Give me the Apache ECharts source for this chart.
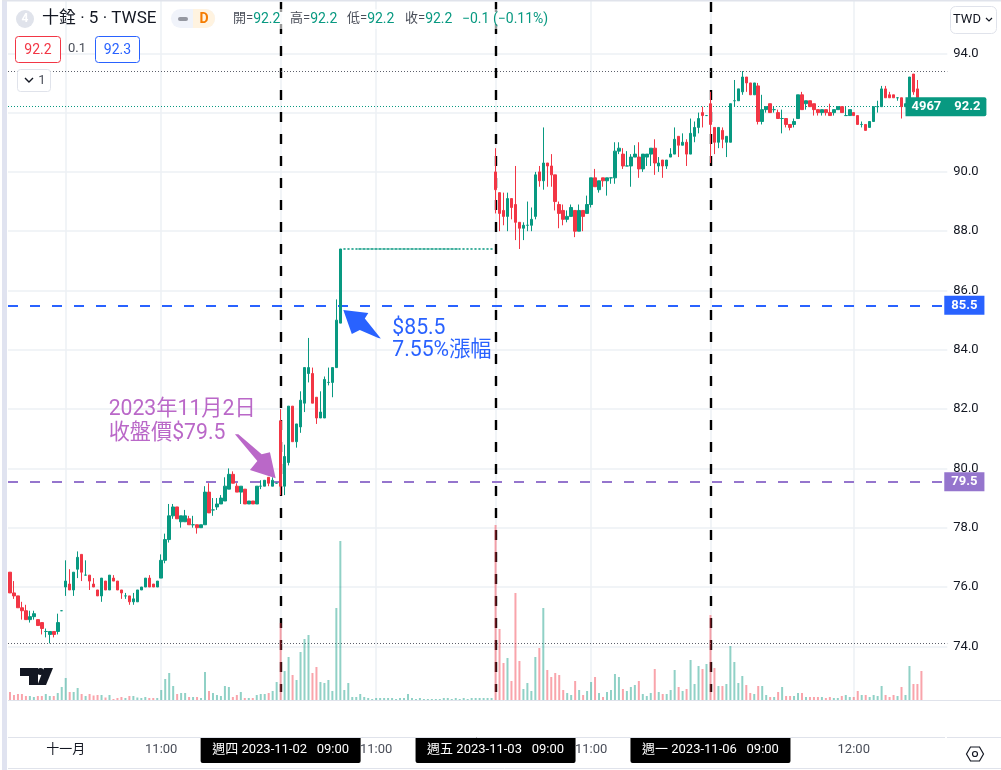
<!DOCTYPE html>
<html><head><meta charset="utf-8">
<style>html,body{margin:0;padding:0;background:#fff}#c{width:1001px;height:770px}</style>
<script src="https://cdn.jsdelivr.net/npm/echarts@6/dist/echarts.min.js"></script>
</head><body><div id="c"></div>
<script>
// [open, close, low, high] per 5-minute bar, by session
const barsOct31 = [[76.5,75.8,75.8,76.5],[75.8,75.7,75.6,76.2],[75.7,75.3,75.3,75.7],[75.3,75.2,74.9,75.5],[75.2,74.9,74.9,75.4],[74.9,75.0,74.8,75.2],[75.0,75.1,74.9,75.2],[74.9,74.7,74.7,74.9],[74.8,74.6,74.4,74.8],[74.5,74.5,74.3,74.6],[74.4,74.5,74.1,74.5],[74.5,74.4,74.3,74.5],[74.5,74.8,74.4,75.1],[75.2,75.2,75.2,75.2]];
const barsNov01 = [[76.0,76.2,75.7,76.9],[76.1,75.9,75.9,76.6],[75.9,76.5,75.7,76.5],[76.6,77.0,76.3,77.2],[77.1,76.5,76.2,77.1],[76.4,76.4,76.4,76.9],[76.4,76.2,75.9,76.4],[76.1,76.0,76.0,76.3],[75.9,75.7,75.7,75.9],[75.7,76.3,75.5,76.3],[76.2,75.9,75.9,76.2],[75.9,76.4,75.9,76.4],[76.3,76.2,76.2,76.4],[76.2,75.9,75.9,76.2],[75.9,75.8,75.6,75.9],[75.7,75.7,75.6,75.8],[75.7,75.5,75.4,75.7],[75.5,75.6,75.4,75.8],[75.5,75.9,75.5,75.9],[75.9,76.0,75.9,76.0],[76.0,76.3,76.0,76.3],[76.3,76.0,76.0,76.4],[76.1,76.0,76.0,76.1],[76.0,76.2,76.0,76.2],[76.3,76.9,76.3,77.1],[76.9,77.6,76.8,77.8],[77.6,78.4,77.5,78.8],[78.4,78.7,78.3,78.8],[78.7,78.3,78.3,78.7],[78.2,78.4,78.0,78.4],[78.2,78.4,78.2,78.6],[78.3,78.1,78.1,78.4],[78.1,78.1,78.0,78.4],[78.1,78.0,77.8,78.1],[78.0,78.1,78.0,78.1],[78.1,79.2,78.1,79.4],[79.2,78.5,78.5,79.5],[78.6,78.6,78.4,79.0],[78.7,78.8,78.6,79.0],[78.8,79.0,78.8,79.1],[78.9,79.4,78.9,79.7],[79.3,79.8,79.3,80.0],[79.8,79.5,79.5,79.9],[79.4,79.2,79.2,79.5],[79.2,79.4,78.8,79.4],[79.3,78.8,78.8,79.3],[78.8,78.9,78.8,78.9],[78.9,78.8,78.8,78.9],[78.8,79.4,78.8,79.4],[79.4,79.4,79.3,79.6],[79.4,79.6,79.4,79.6],[79.7,79.5,79.4,79.7],[79.4,79.6,79.4,79.7],[79.5,79.5,79.5,79.5]];
const barsNov02 = [[81.6,79.4,79.1,82.0],[79.4,80.4,79.1,80.8],[80.2,82.1,80.1,82.1],[82.1,80.9,80.9,82.1],[80.9,81.5,80.7,81.5],[81.4,82.3,81.2,82.6],[82.2,83.4,81.9,83.4],[83.2,83.4,82.9,84.4],[83.2,82.2,82.2,83.4],[82.4,81.7,81.5,82.4],[81.7,81.9,81.7,82.6],[81.7,83.0,81.7,83.1],[82.9,82.9,82.8,83.4],[82.9,83.4,82.4,83.4],[83.4,85.0,83.4,85.7],[84.9,87.4,84.9,87.4],
[87.4,87.4,87.4,87.4],[87.4,87.4,87.4,87.4],[87.4,87.4,87.4,87.4],[87.4,87.4,87.4,87.4],[87.4,87.4,87.4,87.4],[87.4,87.4,87.4,87.4],[87.4,87.4,87.4,87.4],[87.4,87.4,87.4,87.4],[87.4,87.4,87.4,87.4],[87.4,87.4,87.4,87.4],[87.4,87.4,87.4,87.4],[87.4,87.4,87.4,87.4],[87.4,87.4,87.4,87.4],[87.4,87.4,87.4,87.4],[87.4,87.4,87.4,87.4],[87.4,87.4,87.4,87.4],[87.4,87.4,87.4,87.4],[87.4,87.4,87.4,87.4],[87.4,87.4,87.4,87.4],[87.4,87.4,87.4,87.4],[87.4,87.4,87.4,87.4],[87.4,87.4,87.4,87.4],[87.4,87.4,87.4,87.4],[87.4,87.4,87.4,87.4],[87.4,87.4,87.4,87.4],[87.4,87.4,87.4,87.4],[87.4,87.4,87.4,87.4],[87.4,87.4,87.4,87.4],[87.4,87.4,87.4,87.4],[87.4,87.4,87.4,87.4],[87.4,87.4,87.4,87.4],[87.4,87.4,87.4,87.4],[87.4,87.4,87.4,87.4],[87.4,87.4,87.4,87.4],[87.4,87.4,87.4,87.4],[87.4,87.4,87.4,87.4],[87.4,87.4,87.4,87.4],[87.4,87.4,87.4,87.4]];
const barsNov03 = [[90.0,89.4,88.6,90.8],[89.3,88.6,88.0,89.3],[88.7,88.5,88.2,89.3],[88.5,89.1,88.0,89.3],[89.1,88.8,88.4,89.1],[88.9,88.3,87.7,90.2],[88.3,88.1,87.4,88.3],[88.1,88.2,87.7,88.3],[88.2,88.2,88.0,89.0],[88.2,88.4,88.0,88.8],[88.5,89.9,88.4,90.0],[90.0,89.7,89.5,90.2],[89.7,90.3,89.4,91.5],[90.3,90.2,89.5,90.3],[90.2,89.9,89.5,90.6],[89.9,89.0,88.7,89.9],[88.9,88.6,88.1,89.0],[88.7,88.4,88.2,88.9],[88.4,88.5,88.3,88.7],[88.5,88.8,88.5,88.9],[88.7,88.0,87.8,88.7],[88.0,88.7,88.0,88.9],[88.7,88.5,88.0,88.7],[88.6,88.9,88.6,89.2],[88.9,89.8,88.8,89.8],[89.8,89.5,89.5,90.1],[89.4,89.7,89.3,89.7],[89.8,89.7,89.5,89.8],[89.7,89.8,89.2,89.8],[89.8,89.8,89.6,89.8],[89.8,90.7,89.6,91.0],[90.7,90.8,90.6,91.0],[90.6,90.2,90.1,90.8],[90.2,90.2,90.2,90.7],[90.2,90.5,89.5,90.6],[90.5,90.6,90.5,90.9],[90.5,90.1,89.8,91.0],[90.1,90.6,90.0,90.6],[90.5,90.6,90.2,90.6],[90.6,90.8,90.2,90.8],[90.8,90.3,89.9,91.1],[90.2,90.3,90.0,90.5],[90.4,90.2,89.8,90.4],[90.2,90.4,90.1,90.4],[90.5,90.6,90.5,90.8],[90.6,91.1,90.6,91.5],[91.2,90.9,90.5,91.2],[90.9,91.0,90.9,91.3],[91.0,90.6,90.2,91.1],[90.6,91.3,90.6,91.8],[91.2,91.5,91.0,91.7],[91.5,91.8,91.3,92.0],[92.0,91.9,91.5,92.2],[91.9,91.9,91.9,91.9]];
const barsNov06 = [[92.3,91.6,90.3,92.7],[91.5,91.0,90.6,91.5],[91.0,91.5,90.8,91.5],[91.4,91.1,90.8,91.5],[91.0,91.2,90.5,91.2],[91.0,92.3,91.0,92.3],[92.4,92.4,92.2,93.1],[92.4,92.8,92.4,92.8],[92.7,93.2,92.6,93.4],[93.2,93.0,92.7,93.2],[93.0,92.6,92.6,93.0],[92.6,93.0,92.6,93.0],[92.9,91.7,91.6,93.0],[91.7,92.1,91.6,92.6],[92.1,92.2,92.0,92.2],[92.3,92.0,92.0,92.3],[92.1,92.1,92.0,92.2],[92.0,91.8,91.8,92.1],[91.8,91.8,91.3,92.1],[91.8,91.6,91.5,91.8],[91.6,91.5,91.4,91.6],[91.6,91.7,91.5,91.8],[91.8,92.6,91.8,92.6],[92.6,92.1,92.1,92.7],[92.3,92.4,92.1,92.4],[92.4,92.2,92.2,92.4],[92.3,92.1,91.9,92.3],[92.1,92.0,91.9,92.1],[92.0,92.1,91.9,92.1],[92.1,92.0,91.9,92.1],[92.0,91.9,91.9,92.3],[92.0,92.1,91.9,92.1],[92.1,92.2,92.1,92.2],[92.2,92.0,92.0,92.2],[91.9,91.9,91.9,92.2],[91.9,92.1,91.9,92.1],[92.0,91.9,91.9,92.0],[91.9,91.6,91.6,91.9],[91.6,91.6,91.5,91.7],[91.6,91.4,91.4,91.6],[91.5,91.7,91.5,91.7],[91.7,92.2,91.7,92.2],[92.2,92.2,92.0,92.4],[92.2,92.8,92.2,92.9],[92.8,92.5,92.5,92.9],[92.6,92.5,92.5,92.7],[92.6,92.5,92.5,92.6],[92.5,92.5,92.4,92.5],[92.5,92.2,91.8,92.5],[92.2,92.3,92.2,92.3],[92.4,93.2,92.4,93.2],[93.3,92.7,92.6,93.3],[92.8,92.5,92.5,93.1],[92.2,92.2,92.2,92.2]];
// volume per bar (read as bar heights)
const volOct31 = [8,5,6,6,4,4,3,4,4,6,4,4,7,13];
const volNov01 = [22,8,8,12,6,4,6,4.5,5,5,2.5,5,1,2,3,2,4,4,2.5,2,3,2,2,2,10,21,27,14,6,7,7,3,3,3,2,28,9,7,5,4,14,13,3,5,8,2,2,2,5,6,6,7,9,18];
const volNov02 = [77,29,43,25,20,48,61,65,27,33,18,17,20,9,92,159,10,17,3,3,6,3,2,1,2,2,2,2,2,1,2,2,6,2,1,2,1,1,1,1,1,2,2,1,2,1,2,1,2,2,2,2,2,2];
const volNov03 = [175,71,37,42,19,107,39,11,17,9,43,52,92,30,23,27,25,10,7,5,19,10,5,9,18,23,7,3,8,10,26,23,11,9,13,15,19,6,4,7,31,8,6,6,10,30,13,9,11,40,16,34,31,36];
const volNov06 = [85,32,14,14,16,54,38,17,24,15,7,6,14,14,5,3,3,8,13,4,4,4,7,7,3,3,3,3,3,2,3,2,2,4,5,3,3,9,5,5,3,5,4,14,5,3,5,4,13,5,34,16,16,29];
const redVolumeBars = [229];
// axis ticks
const tickIndex = [14,38,68,92,122,146,176,212];
const tickText = ['十一月','11:00','週四 2023-11-02   09:00','11:00','週五 2023-11-03   09:00','11:00','週一 2023-11-06   09:00','12:00'];
const sessionStarts = [68,122,176];
const priceTicks = {min:74,max:94,interval:2};
// horizontal levels
const levelBlue = 85.5, levelPurple = 79.55, levelHigh = 93.39, levelLow = 74.09, levelLast = 92.2;

const bars = [...barsOct31,...barsNov01,...barsNov02,...barsNov03,...barsNov06];
const volumes = [...volOct31,...volNov01,...volNov02,...volNov03,...volNov06];
const N_CATS = 236, BAND = 3.98, GL = 8, GW = N_CATS*BAND;
const categories = []; for(let i=0;i<N_CATS;i++) categories.push(String(i));
const UP='#089981', DOWN='#f23645', FONT="Roboto,'Noto Sans CJK TC',sans-serif";
const GRIDC='#edf0f5';
const tickSet = new Set(tickIndex);
const tickMap = {}; tickIndex.forEach((v,k)=>tickMap[v]=tickText[k]);
const sessionSet = new Set(sessionStarts);
const volData = volumes.map((v,i)=>{
  const up = bars[i][1]>=bars[i][0] && !redVolumeBars.includes(i);
  return {value:v,itemStyle:{color:up?'rgba(8,153,129,0.45)':'rgba(242,54,69,0.45)'}};
});
const candleData = bars.map(b=>[b[0],b[1],b[2],b[3]]);
const hl = (y,color,type,w,label)=>({yAxis:y,lineStyle:{color,type,width:w},
  label: label? {show:true,position:'end',distance:-3,formatter:label.text,color:'#fff',fontWeight:'bold',fontSize:13,fontFamily:FONT,
    backgroundColor:color,padding:[3,7,2,7],lineHeight:14}:{show:false}});

// annotation: tip of each arrow as [bar index, price]; shape offsets in px around it
const annotations = [
 {tip:[67,79.67],color:'#ba68c8',poly:[[-41.7,-44],[-38.3,-44],[-15,-24],[-6.7,-26],[-1,0],[-26.7,-8.3],[-19.3,-17.3]],
  lines:[['2023年11月2日',-168,-68],['收盤價$79.5',-168,-44]]},
 {tip:[84,85.34],color:'#2962ff',poly:[[-1,0],[24,3],[20.5,8.5],[36.5,28.5],[34,28],[15.5,20],[7.5,24]],
  lines:[['$85.5',48,19],['7.55%漲幅',48,41]]}
];

const txt=(x,y,text,o={})=>({type:'text',z:200,x,y,style:Object.assign({text,fill:'#131722',font:'14px '+FONT,verticalAlign:'middle',align:'left'},o)});
const rect=(x,y,w,h,o={},r=0)=>({type:'rect',z:o.z||190,shape:{x,y,width:w,height:h,r},style:o});
const line=(x1,y1,x2,y2,c='#e0e3eb',w=1)=>({type:'line',z:190,shape:{x1,y1,x2,y2},style:{stroke:c,lineWidth:w}});
const ohlcRich={l:{fill:'#4a4e59',font:'13px '+FONT},v:{fill:UP,font:'14px '+FONT}};
const ohlc=(x,l,v)=>({type:'text',z:200,x,y:19,style:{text:`{l|${l}=}{v|${v}}`,rich:ohlcRich,verticalAlign:'middle',font:'14px '+FONT}});

const chrome=[
 rect(2,0,5,770,{fill:'#e0e3f0'}),rect(2,0,999,1.5,{fill:'#e0e3eb'}),
 line(8,700.5,1001,700.5),line(8,737.5,945,737.5),line(947,737.5,1001,737.5),line(8,768.5,1001,768.5),
 rect(225,9,325,20,{fill:'rgba(255,255,255,0.6)'}),
 {type:'circle',z:195,shape:{cx:25,cy:19,r:9},style:{fill:'#e0e3eb'}},
 txt(25,19,'4',{fill:'#fff',font:'bold 12px '+FONT,align:'center'}),
 txt(42,19,'十銓 · 5 · TWSE',{font:'17px '+FONT}),
 rect(171,9,44,19,{fill:'#f0f3fa'},9.5),
 rect(193,9,22,19,{fill:'#fff3e0'},[0,9.5,9.5,0]),
 rect(178,17,10,4,{fill:'#9598a1'},2),
 txt(204,19,'D',{fill:'#f57c00',font:'bold 14px '+FONT,align:'center'}),
 ohlc(233,'開','92.2'),ohlc(290,'高','92.2'),ohlc(347,'低','92.2'),ohlc(405,'收','92.2'),
 txt(462,19,'−0.1',{fill:UP}),txt(493,19,'(−0.11%)',{fill:UP}),
 rect(15.5,36.5,45,26,{fill:'#fff',stroke:DOWN,lineWidth:1},3),txt(38,50,'92.2',{fill:DOWN,align:'center'}),
 txt(77,49,'0.1',{fill:'#4a4e59',font:'13px '+FONT,align:'center'}),
 rect(95.5,36.5,44,26,{fill:'#fff',stroke:'#2962ff',lineWidth:1},3),txt(117.5,50,'92.3',{fill:'#2962ff',align:'center'}),
 rect(17.5,69.5,33,22,{fill:'#fff',stroke:'#e0e3eb',lineWidth:1},3),
 {type:'polyline',z:200,shape:{points:[[25,78],[29,82],[33,78]]},style:{stroke:'#131722',lineWidth:1.4,fill:'none'}},
 txt(42,81,'1',{fill:'#4a4e59',font:'13px '+FONT,align:'center'}),
 rect(950.5,6.5,46,27,{fill:'#fff',stroke:'#e0e3eb',lineWidth:1},5),
 txt(953,20,'TWD',{fill:'#131722',font:'13px '+FONT}),
 {type:'polyline',z:200,shape:{points:[[986,18],[989,21],[992,18]]},style:{stroke:'#131722',lineWidth:1.2,fill:'none'}},
 // logo
 {type:'polygon',z:195,shape:{points:[[20,668],[38,668],[38,685],[29,685],[29,676],[20,676]]},style:{fill:'#131722'}},
 {type:'circle',z:195,shape:{cx:40.5,cy:671.5,r:3.5},style:{fill:'#131722'}},
 {type:'polygon',z:195,shape:{points:[[44,668],[53,668],[46,685],[37.5,685]]},style:{fill:'#131722'}},
 // settings
 {type:'polygon',z:195,shape:{points:[[966.5,754],[970.5,747],[979.5,747],[983.5,754],[979.5,761],[970.5,761]]},style:{fill:'none',stroke:'#131722',lineWidth:1.2}},
 {type:'circle',z:195,shape:{cx:975,cy:754,r:2.5},style:{fill:'none',stroke:'#131722',lineWidth:1.2}}
];

const chart=echarts.init(document.getElementById('c'),null,{renderer:'canvas'});
chart.setOption({
 animation:false,backgroundColor:'#fff',
 grid:[
  {left:GL,top:53.3,width:GW,height:593,containLabel:false},
  {left:GL,top:0,width:GW,height:700,containLabel:false}
 ],
 xAxis:[
  {type:'category',gridIndex:0,data:categories,show:false,boundaryGap:true},
  {type:'category',gridIndex:1,data:categories,boundaryGap:true,
   axisLine:{show:false},axisTick:{show:false},
   splitLine:{show:true,alignWithLabel:true,interval:(i)=>tickSet.has(i),lineStyle:{color:GRIDC,width:1.5}},
   axisLabel:{show:true,interval:(i)=>tickSet.has(i),margin:37,hideOverlap:false,
    formatter:(v,i)=>{const t=tickMap[i]; if(!t) return ''; return sessionSet.has(i)?`{hl|${t}}`:(i===14?`{m|${t}}`:`{t|${t}}`);},
    rich:{
     hl:{color:'#fff',backgroundColor:'#000',fontFamily:FONT,fontSize:13,height:26,lineHeight:26,width:160,align:'center',borderRadius:[0,0,2,2]},
     t:{color:'#4a4e59',fontFamily:FONT,fontSize:13,height:26,lineHeight:26},
     m:{color:'#131722',fontFamily:FONT,fontSize:13,height:26,lineHeight:26}
    }}}
 ],
 yAxis:[
  {type:'value',gridIndex:0,position:'right',min:priceTicks.min,max:priceTicks.max,interval:priceTicks.interval,
   axisLine:{show:false},axisTick:{show:false},
   splitLine:{show:true,lineStyle:{color:GRIDC,width:1.5}},
   axisLabel:{margin:6,fontSize:13,color:'#131722',fontFamily:FONT,align:'left',padding:[4,0,0,0],formatter:v=>v.toFixed(1)}},
  {type:'value',gridIndex:1,min:0,max:700,interval:100,show:false,splitLine:{show:false}}
 ],
 series:[
  {type:'line',name:'sessions',xAxisIndex:1,yAxisIndex:1,data:[],z:1,silent:true,
   markLine:{silent:true,symbol:['none','none'],animation:false,z:1,label:{show:false},
    data:sessionStarts.map(s=>[{xAxis:s,yAxis:698,lineStyle:{color:'#000',type:[10,12],width:2.4}},{xAxis:s,yAxis:8}])}},
  {type:'line',name:'levels',xAxisIndex:0,yAxisIndex:0,data:[],z:1,silent:true,
   markLine:{silent:true,symbol:['none','none'],animation:false,z:2,precision:2,
    data:[
     hl(levelHigh,'#5d606b',[1,2],1),hl(levelLow,'#5d606b',[1,2],1),hl(levelLast,UP,[1,2],1),
     hl(levelBlue,'#2962ff',[10,12],2.2,{text:'85.5'}),
     hl(levelPurple,'#9575cd',[10,12],2.2,{text:'79.5'})
    ]}},
  {type:'bar',name:'volume',xAxisIndex:1,yAxisIndex:1,data:volData,barWidth:2,z:3,silent:true},
  {type:'candlestick',name:'十銓',xAxisIndex:0,yAxisIndex:0,data:candleData,barWidth:3,z:5,silent:true,clip:false,
   itemStyle:{color:UP,color0:DOWN,borderColor:UP,borderColor0:DOWN,borderColorDoji:UP,borderWidth:1},
   markPoint:{silent:true,symbol:'none',animation:false,z:20,
    data:[{coord:[225,levelLast],symbol:'rect',symbolSize:0,
     label:{show:true,position:'right',distance:0,color:'#fff',fontFamily:FONT,fontWeight:'bold',fontSize:13,
      backgroundColor:UP,padding:[2,6,2,6],borderRadius:[0,2,2,0],lineHeight:15,
      formatter:'4967    92.2'}}]}},
  {type:'custom',name:'annotations',xAxisIndex:0,yAxisIndex:0,z:30,silent:true,clip:false,
   data:annotations.map(a=>a.tip),
   renderItem:(params,api)=>{
     const a=annotations[params.dataIndex];
     const p=api.coord([api.value(0),api.value(1)]);
     const ch=[{type:'polygon',shape:{points:a.poly.map(o=>[p[0]+o[0],p[1]+o[1]])},style:{fill:a.color}}];
     a.lines.forEach(l=>ch.push({type:'text',x:p[0]+l[1],y:p[1]+l[2],style:{text:l[0],fill:a.color,font:'21.2px '+FONT,verticalAlign:'middle',align:'left'}}));
     return {type:'group',children:ch};
   }}
 ],
 graphic:{elements:chrome}
});
</script></body></html>
